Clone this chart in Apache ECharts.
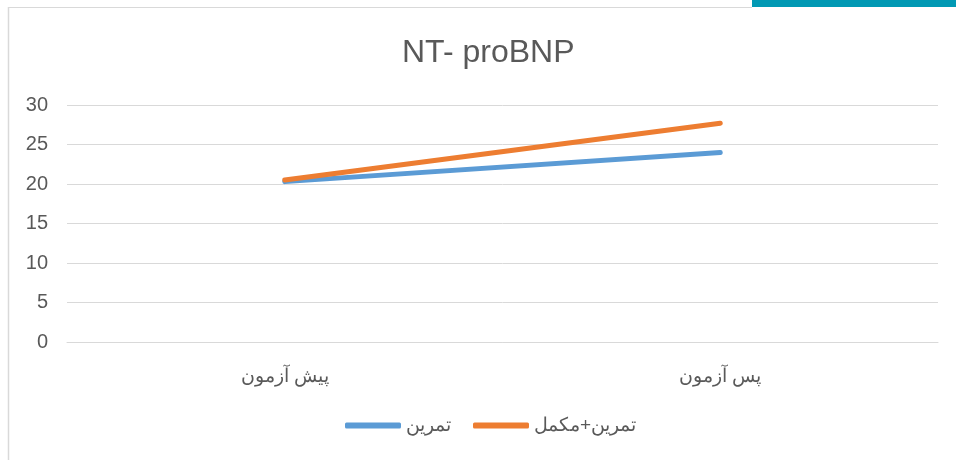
<!DOCTYPE html>
<html>
<head>
<meta charset="utf-8">
<script src="https://cdn.jsdelivr.net/npm/echarts@6/dist/echarts.min.js"></script>
<style>
  html, body { margin: 0; padding: 0; background: #fff; }
  #chart { width: 956px; height: 460px; }
</style>
</head>
<body>
<div id="chart"></div>
<script>
// data
const categories = ['پیش آزمون', 'پس آزمون'];
const trainingValues = [20.3, 24.0];
const supplementValues = [20.5, 27.7];
const yTicks = { min: 0, max: 30, interval: 5 };

const textColor = '#595959';
const gridColor = '#d9d9d9';
const font = '"Liberation Sans", Arial, sans-serif';

const chart = echarts.init(document.getElementById('chart'));

chart.setOption({
  animation: false,
  graphic: [
    // frame of the chart area
    {
      type: 'line',
      shape: { x1: 8.5, y1: 7, x2: 8.5, y2: 460 },
      style: { stroke: gridColor, lineWidth: 1.5 }
    },
    {
      type: 'line',
      shape: { x1: 8, y1: 7.5, x2: 752, y2: 7.5 },
      style: { stroke: gridColor, lineWidth: 1 }
    },
    {
      type: 'rect',
      shape: { x: 752, y: 0, width: 204, height: 7 },
      style: { fill: '#0199b4' }
    }
  ],
  title: {
    text: 'NT- proBNP',
    left: 397,
    top: 32,
    textStyle: {
      color: textColor,
      fontFamily: font,
      fontWeight: 'normal',
      fontSize: 32
    }
  },
  legend: {
    data: [
      { name: 'تمرین', icon: 'roundRect' },
      { name: 'تمرین+مکمل', icon: 'roundRect' }
    ],
    top: 411,
    left: 340,
    itemWidth: 56,
    itemHeight: 6,
    itemGap: 22,
    textStyle: {
      color: textColor,
      fontFamily: font,
      fontSize: 19
    }
  },
  grid: { left: 67, right: 18, top: 105, bottom: 118, containLabel: false },
  xAxis: {
    type: 'category',
    data: categories,
    boundaryGap: true,
    axisLine: { show: true, lineStyle: { color: gridColor, width: 1 } },
    axisTick: { show: false },
    axisLabel: {
      color: textColor,
      fontFamily: font,
      fontSize: 19,
      margin: 25
    }
  },
  yAxis: {
    type: 'value',
    min: yTicks.min,
    max: yTicks.max,
    interval: yTicks.interval,
    axisLine: { show: false },
    axisTick: { show: false },
    axisLabel: {
      color: textColor,
      fontFamily: font,
      fontSize: 20,
      margin: 19
    },
    splitLine: { show: true, lineStyle: { color: gridColor, width: 1 } }
  },
  series: [
    {
      name: 'تمرین',
      type: 'line',
      data: trainingValues,
      showSymbol: false,
      symbol: 'none',
      lineStyle: { color: '#5b9bd5', width: 5, cap: 'round' },
      itemStyle: { color: '#5b9bd5' },
      z: 2
    },
    {
      name: 'تمرین+مکمل',
      type: 'line',
      data: supplementValues,
      showSymbol: false,
      symbol: 'none',
      lineStyle: { color: '#ed7d31', width: 5, cap: 'round' },
      itemStyle: { color: '#ed7d31' },
      z: 3
    }
  ]
});
</script>
</body>
</html>
